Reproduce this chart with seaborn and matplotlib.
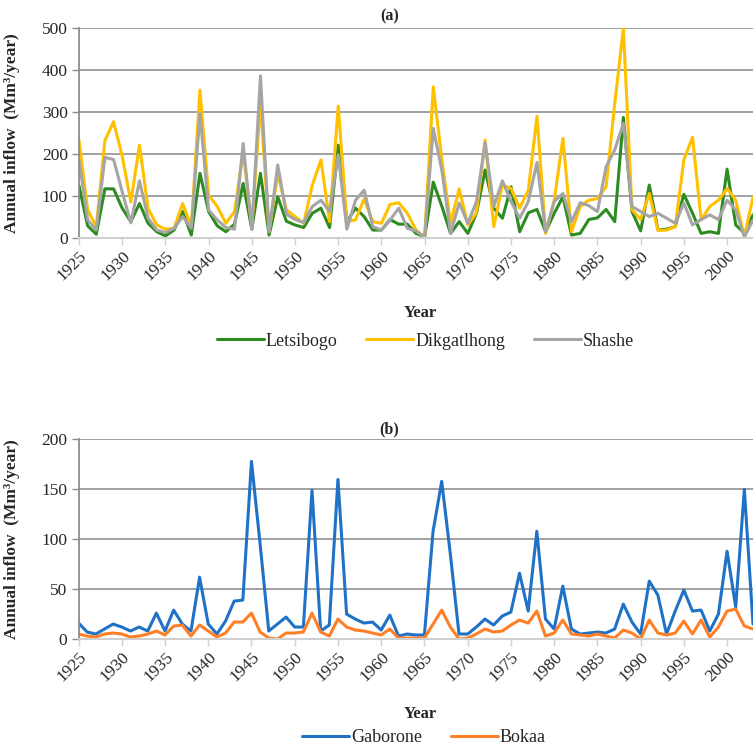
import pandas as pd
import matplotlib
matplotlib.use("Agg")
import matplotlib.pyplot as plt
import seaborn as sns

# Annual inflow data (Mm3/year)
years = list(range(1925, 2004))

letsibogo = [125, 29, 9, 117, 117, 71, 39, 82, 35, 15,
             5, 19, 63, 7, 154, 63, 29, 15, 33, 130,
             21, 154, 7, 98, 40, 31, 25, 59, 71, 25,
             221, 39, 71, 51, 19, 19, 44, 33, 33, 11,
             3, 133, 75, 11, 39, 11, 59, 162, 71, 47,
             122, 15, 60, 68, 15, 59, 98, 7, 11, 44,
             48, 68, 39, 287, 63, 17, 126, 19, 21, 27,
             104, 59, 11, 15, 11, 164, 31, 12, 55]
dikgatlhong = [233, 67, 27, 232, 277, 195, 86, 221, 70, 31,
               21, 23, 82, 27, 352, 102, 75, 35, 63, 205,
               27, 320, 15, 154, 67, 51, 35, 126, 186, 39,
               314, 40, 43, 93, 39, 35, 80, 84, 59, 19,
               2, 360, 185, 35, 117, 31, 60, 233, 27, 126,
               118, 71, 114, 290, 11, 90, 237, 15, 75, 90,
               94, 122, 320, 499, 67, 44, 106, 18, 19, 27,
               186, 240, 43, 75, 90, 118, 90, 3, 98]
shashe = [186, 43, 19, 192, 187, 110, 36, 136, 47, 19,
          13, 23, 51, 23, 297, 67, 43, 25, 21, 225,
          21, 386, 15, 174, 57, 44, 37, 75, 90, 63,
          198, 21, 90, 114, 27, 19, 43, 71, 23, 17,
          3, 261, 160, 11, 83, 35, 87, 227, 75, 136,
          87, 47, 87, 180, 15, 87, 106, 39, 84, 77,
          63, 170, 210, 273, 75, 63, 51, 59, 47, 35,
          83, 31, 44, 55, 44, 90, 67, 2, 43]
gaborone = [16, 7, 5, 10, 15, 12, 8, 12, 8, 26,
            8, 29, 15, 8, 62, 15, 5, 18, 38, 39,
            178, 95, 8, 15, 22, 12, 12, 149, 8, 14,
            160, 25, 20, 16, 17, 9, 24, 3, 5, 4,
            4, 108, 158, 85, 5, 5, 12, 20, 14, 23,
            27, 66, 28, 108, 20, 10, 53, 10, 5, 6,
            7, 6, 10, 35, 17, 5, 58, 44, 5, 28,
            49, 28, 29, 8, 25, 88, 32, 150, 15]
bokaa = [5, 3, 2, 5, 6, 5, 2, 3, 5, 8,
         4, 13, 14, 3, 14, 8, 2, 6, 17, 17,
         26, 7, 1, 0, 6, 6, 7, 26, 7, 3,
         20, 12, 9, 8, 6, 4, 10, 1, 1, 1,
         1, 15, 29, 12, 0, 1, 5, 10, 7, 8,
         14, 19, 16, 28, 3, 6, 19, 5, 4, 3,
         5, 3, 1, 9, 6, 0, 19, 6, 4, 6,
         18, 5, 19, 2, 12, 28, 30, 13, 10]

year_ticks = list(range(1925, 2001, 5))

sns.set_style("white")
plt.rcParams['font.family'] = ['Liberation Serif', 'DejaVu Serif']

colors_a = {"Letsibogo": "#2E8B22", "Dikgatlhong": "#FFC000", "Shashe": "#A5A5A5"}
colors_b = {"Gaborone": "#1F72C6", "Bokaa": "#FF7F27"}

df_a = pd.DataFrame({"Year": years, "Letsibogo": letsibogo,
                     "Dikgatlhong": dikgatlhong, "Shashe": shashe})
df_a = df_a.melt(id_vars="Year", var_name="Dam", value_name="Inflow")
df_b = pd.DataFrame({"Year": years, "Gaborone": gaborone, "Bokaa": bokaa})
df_b = df_b.melt(id_vars="Year", var_name="Dam", value_name="Inflow")

fig = plt.figure(figsize=(7.53, 7.48), dpi=100)
ax_a = fig.add_axes([0.1049, 0.6818, 0.8951, 0.2808])
ax_b = fig.add_axes([0.1043, 0.1457, 0.8957, 0.2668])


def style_axis(ax, ymax, ystep, title, title_y):
    ax.set_xlim(1925, 2003)
    ax.set_ylim(0, ymax)
    ax.set_yticks(range(0, ymax + 1, ystep))
    ax.set_xticks(year_ticks)
    ax.set_xticklabels(year_ticks, rotation=45, ha="right", rotation_mode="anchor")
    ax.grid(axis="y", color="#A0A0A0", linewidth=1.4)
    ax.set_axisbelow(True)
    for side in ["top", "right"]:
        ax.spines[side].set_visible(False)
    ax.spines["left"].set_color("#8C8C8C")
    ax.spines["left"].set_linewidth(1.3)
    ax.spines["bottom"].set_color("#D0D0D0")
    ax.spines["bottom"].set_linewidth(1.5)
    ax.tick_params(axis="x", which="major", length=5, width=1, color="#D0D0D0",
                   labelsize=12.5, pad=2, bottom=True)
    ax.tick_params(axis="y", which="major", length=5, width=1, color="#8C8C8C",
                   labelsize=12.5, pad=3, left=True)
    ax.set_ylabel("Annual inflow  (Mm³/year)", fontsize=12.5, fontweight="bold")
    ax.yaxis.set_label_coords(-0.087, 0.5)
    ax.set_xlabel("Year", fontsize=12, fontweight="bold")
    ax.text(0.461, title_y, title, transform=ax.transAxes, ha="center",
            va="center", fontsize=11.5, fontweight="bold")


sns.lineplot(data=df_a, x="Year", y="Inflow", hue="Dam", palette=colors_a,
             linewidth=2.2, ax=ax_a)
style_axis(ax_a, 500, 100, "(a)", 1.055)
ax_a.xaxis.set_label_coords(0.506, -0.32)
ax_a.legend(loc="center", bbox_to_anchor=(0.565, 0.544), bbox_transform=fig.transFigure,
            ncol=3, frameon=False, fontsize=13, handlelength=2.6, handletextpad=0.1,
            columnspacing=1.6)

sns.lineplot(data=df_b, x="Year", y="Inflow", hue="Dam", palette=colors_b,
             linewidth=2.2, ax=ax_b)
style_axis(ax_b, 200, 50, "(b)", 1.052)
ax_b.xaxis.set_label_coords(0.506, -0.336)
ax_b.legend(loc="center", bbox_to_anchor=(0.563, 0.0134), bbox_transform=fig.transFigure,
            ncol=2, frameon=False, fontsize=13, handlelength=2.6, handletextpad=0.1,
            columnspacing=1.6)

for line in ax_a.get_legend().get_lines() + ax_b.get_legend().get_lines():
    line.set_linewidth(2.2)

fig.savefig("out.png", dpi=100)
